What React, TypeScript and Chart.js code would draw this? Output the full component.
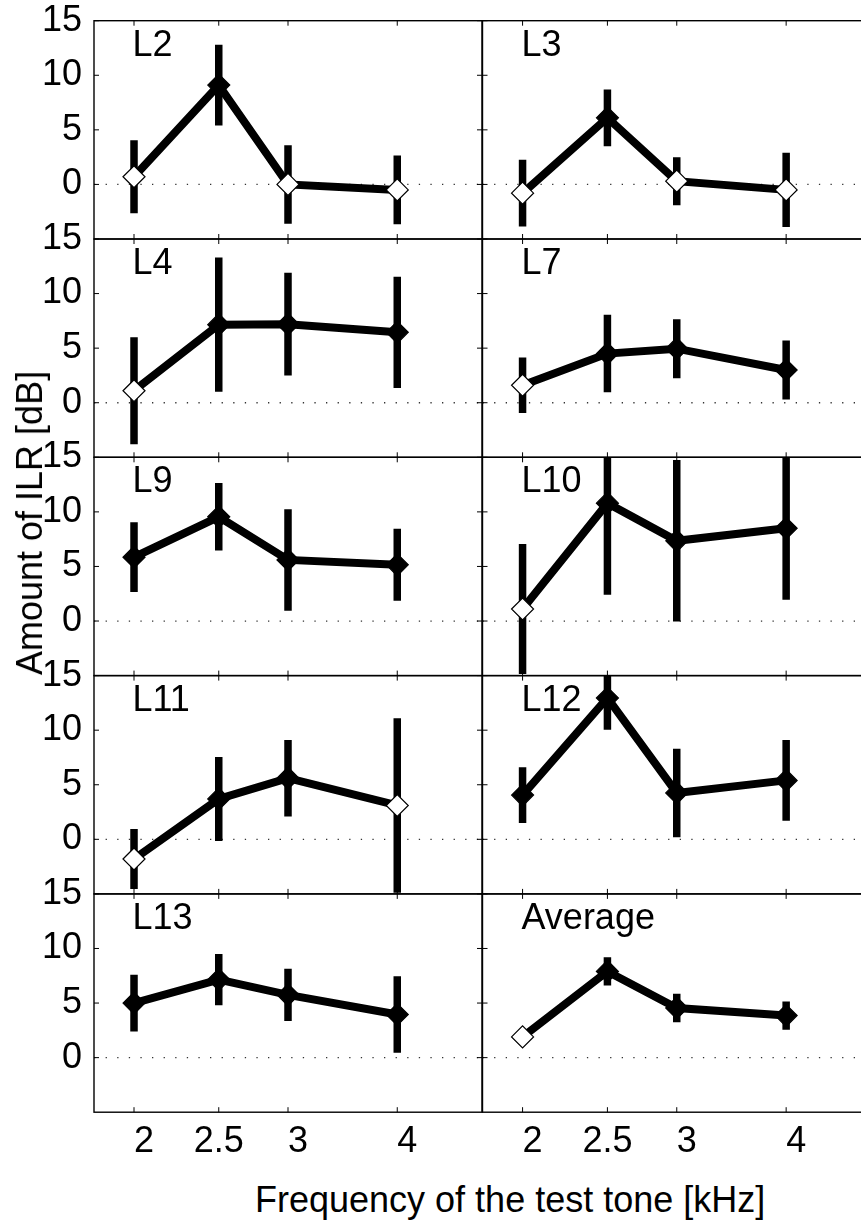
import React, { useEffect, useRef } from 'react';
import { Chart, registerables } from 'chart.js';

Chart.register(...registerables);

// ---------- data ----------
const X_TICKS = [2, 2.5, 3, 4];
const X_TICK_LABELS = ['  2', '2.5', '  3', '  4'];
const Y_TICKS = [0, 5, 10, 15];
const X_MIN = 1.8;
const X_MAX = 5;
const Y_MIN = -5;
const Y_MAX = 15;

const PANEL_NAMES = ['L2', 'L3', 'L4', 'L7', 'L9', 'L10', 'L11', 'L12', 'L13', 'Average'];

const L2_MEAN = [0.7, 9.1, 0.0, -0.5];
const L2_ERR = [3.35, 3.7, 3.6, 3.15];
const L2_OPEN = [true, false, true, true];

const L3_MEAN = [-0.8, 6.1, 0.3, -0.5];
const L3_ERR = [3.05, 2.6, 2.2, 3.4];
const L3_OPEN = [true, false, true, true];

const L4_MEAN = [1.1, 7.15, 7.2, 6.45];
const L4_ERR = [4.9, 6.15, 4.7, 5.1];
const L4_OPEN = [true, false, false, false];

const L7_MEAN = [1.6, 4.5, 4.95, 3.0];
const L7_ERR = [2.55, 3.55, 2.7, 2.7];
const L7_OPEN = [true, false, false, false];

const L9_MEAN = [5.85, 9.55, 5.6, 5.15];
const L9_ERR = [3.2, 3.1, 4.65, 3.3];
const L9_OPEN = [false, false, false, false];

const L10_MEAN = [1.1, 10.8, 7.35, 8.5];
const L10_ERR = [5.95, 8.4, 7.4, 6.55];
const L10_OPEN = [true, false, false, false];

const L11_MEAN = [-1.8, 3.7, 5.6, 3.1];
const L11_ERR = [2.75, 3.85, 3.5, 8.0];
const L11_OPEN = [true, false, false, true];

const L12_MEAN = [4.05, 12.95, 4.25, 5.4];
const L12_ERR = [2.55, 2.9, 4.05, 3.7];
const L12_OPEN = [false, false, false, false];

const L13_MEAN = [5.0, 7.15, 5.75, 3.95];
const L13_ERR = [2.6, 2.35, 2.4, 3.5];
const L13_OPEN = [false, false, false, false];

const AVG_MEAN = [1.9, 7.9, 4.55, 3.85];
const AVG_ERR = [0.5, 1.3, 1.3, 1.3];
const AVG_OPEN = [true, false, false, false];

const PANEL_MEANS = [L2_MEAN, L3_MEAN, L4_MEAN, L7_MEAN, L9_MEAN, L10_MEAN, L11_MEAN, L12_MEAN, L13_MEAN, AVG_MEAN];
const PANEL_ERRS = [L2_ERR, L3_ERR, L4_ERR, L7_ERR, L9_ERR, L10_ERR, L11_ERR, L12_ERR, L13_ERR, AVG_ERR];
const PANEL_OPEN = [L2_OPEN, L3_OPEN, L4_OPEN, L7_OPEN, L9_OPEN, L10_OPEN, L11_OPEN, L12_OPEN, L13_OPEN, AVG_OPEN];

const X_TITLE = 'Frequency of the test tone [kHz]';
const Y_TITLE = 'Amount of ILR [dB]';

// ---------- layout ----------
const FONT = "'Liberation Sans', Arial, Helvetica, sans-serif";
const FONT_SIZE = 36;
const COL_LEFT = [94, 482.5];
const COL_RIGHT = [482, 871];
const ROW_TOP0 = 20.7;
const ROW_H = 218.3;
const X_AXIS_H = 62;
const SIDE_PAD = 30;

const framePlugin = {
  id: 'panelFrame',
  afterDatasetsDraw(chart: any) {
    const { ctx, chartArea: a, scales } = chart;
    const xs = scales.x;
    const ys = scales.y;
    ctx.save();
    ctx.strokeStyle = '#000';
    ctx.lineWidth = 1;
    ctx.beginPath();
    for (const v of X_TICKS) {
      const px = xs.getPixelForValue(v);
      ctx.moveTo(px, a.bottom);
      ctx.lineTo(px, a.bottom - 5);
      ctx.moveTo(px, a.top);
      ctx.lineTo(px, a.top + 5);
    }
    for (const v of Y_TICKS) {
      const py = ys.getPixelForValue(v);
      ctx.moveTo(a.left, py);
      ctx.lineTo(a.left + 5, py);
      ctx.moveTo(a.right, py);
      ctx.lineTo(a.right - 5, py);
    }
    ctx.stroke();
    ctx.lineWidth = 1.4;
    ctx.strokeRect(a.left, a.top, a.right - a.left, a.bottom - a.top);
    ctx.restore();
  },
};

function Panel({ idx }: { idx: number }) {
  const ref = useRef<HTMLCanvasElement>(null);
  const col = idx % 2;
  const row = Math.floor(idx / 2);
  const isBottom = row === 4;
  const rowTop = ROW_TOP0 + row * ROW_H;
  const chartBottom = rowTop + ROW_H;
  const canvasTop = Math.floor(rowTop) - 38;
  const extra = isBottom ? X_AXIS_H : 42;
  const canvasH = Math.ceil(chartBottom - canvasTop + extra);
  const padT = rowTop - canvasTop;
  const padB = canvasH - (chartBottom - canvasTop) - (isBottom ? X_AXIS_H : 0);
  const canvasLeft = col === 0 ? 0 : Math.floor(COL_LEFT[1]) - SIDE_PAD;
  const canvasW = Math.ceil(COL_RIGHT[col] + SIDE_PAD - canvasLeft);
  const padL = col === 0 ? 0 : COL_LEFT[1] - canvasLeft;
  const padR = canvasW - (COL_RIGHT[col] - canvasLeft);

  useEffect(() => {
    if (!ref.current) return;
    const mean = PANEL_MEANS[idx];
    const err = PANEL_ERRS[idx];
    const open = PANEL_OPEN[idx];

    const errData: any[] = [];
    X_TICKS.forEach((x, i) => {
      errData.push({ x, y: mean[i] - err[i] });
      errData.push({ x, y: mean[i] + err[i] });
      errData.push({ x, y: null });
    });

    const chart = new Chart(ref.current, {
      type: 'line',
      data: {
        datasets: [
          {
            label: 'mean',
            data: X_TICKS.map((x, i) => ({ x, y: mean[i] })),
            borderColor: '#000',
            borderWidth: 8,
            pointStyle: 'rectRot',
            pointRadius: 11,
            pointBackgroundColor: open.map((o) => (o ? '#fff' : '#000')),
            pointBorderColor: '#000',
            pointBorderWidth: 1.2,
            order: 0,
          },
          {
            label: 'error',
            data: errData,
            borderColor: '#000',
            borderWidth: 7.5,
            pointRadius: 0,
            spanGaps: false,
            clip: 0,
            order: 1,
          },
          {
            label: 'zero',
            data: [
              { x: X_MIN, y: 0 },
              { x: X_MAX, y: 0 },
            ],
            borderColor: '#333',
            borderWidth: 1.3,
            borderDash: [1.3, 10.3],
            pointRadius: 0,
            order: 2,
          },
        ],
      } as any,
      options: {
        responsive: false,
        animation: false,
        events: [],
        layout: { padding: { left: padL, right: padR, top: padT, bottom: padB } },
        plugins: { legend: { display: false }, tooltip: { enabled: false }, title: { display: false } },
        scales: {
          x: {
            type: 'logarithmic',
            min: X_MIN,
            max: X_MAX,
            display: isBottom,
            grid: { display: false, drawTicks: false },
            border: { display: false },
            afterBuildTicks: (s: any) => {
              s.ticks = X_TICKS.map((v) => ({ value: v }));
            },
            afterFit: (s: any) => {
              s.height = isBottom ? X_AXIS_H : 0;
            },
            ticks: {
              autoSkip: false,
              maxRotation: 0,
              minRotation: 0,
              padding: 8,
              color: '#000',
              font: { family: FONT, size: FONT_SIZE },
              callback: (_v: any, i: number) => X_TICK_LABELS[i],
            },
          },
          y: {
            type: 'linear',
            min: Y_MIN,
            max: Y_MAX,
            display: col === 0,
            grid: { display: false, drawTicks: false },
            border: { display: false },
            afterBuildTicks: (s: any) => {
              s.ticks = Y_TICKS.map((v) => ({ value: v }));
            },
            afterFit: (s: any) => {
              s.width = col === 0 ? COL_LEFT[0] - canvasLeft : 0;
            },
            ticks: {
              autoSkip: false,
              padding: 12,
              color: '#000',
              font: { family: FONT, size: FONT_SIZE },
              callback: (v: any) => String(v),
            },
          },
        },
      } as any,
      plugins: [framePlugin],
    });
    return () => chart.destroy();
  }, [idx]);

  return (
    <canvas
      ref={ref}
      width={canvasW}
      height={canvasH}
      style={{
        position: 'absolute',
        left: canvasLeft,
        top: canvasTop,
        width: canvasW,
        height: canvasH,
      }}
    />
  );
}

export default function App() {
  const textBase: React.CSSProperties = {
    position: 'absolute',
    fontFamily: FONT,
    fontSize: FONT_SIZE,
    lineHeight: `${FONT_SIZE}px`,
    color: '#000',
    whiteSpace: 'nowrap',
  };
  return (
    <div
      style={{
        position: 'absolute',
        left: 0,
        top: 0,
        width: 861,
        height: 1224,
        overflow: 'hidden',
        background: '#fff',
      }}
    >
      {PANEL_NAMES.map((_, i) => (
        <Panel key={i} idx={i} />
      ))}
      {PANEL_NAMES.map((name, i) => {
        const col = i % 2;
        const row = Math.floor(i / 2);
        return (
          <div
            key={'lab' + i}
            style={{ ...textBase, left: Math.round(COL_LEFT[col]) + 38.5, top: ROW_TOP0 + row * ROW_H + 5 }}
          >
            {name}
          </div>
        );
      })}
      <div style={{ ...textBase, left: 255, top: 1181.5 }}>{X_TITLE}</div>
      <div
        style={{
          ...textBase,
          left: 29.5,
          top: 522.5,
          transform: 'translate(-50%, -50%) rotate(-90deg)',
        }}
      >
        {Y_TITLE}
      </div>
    </div>
  );
}
